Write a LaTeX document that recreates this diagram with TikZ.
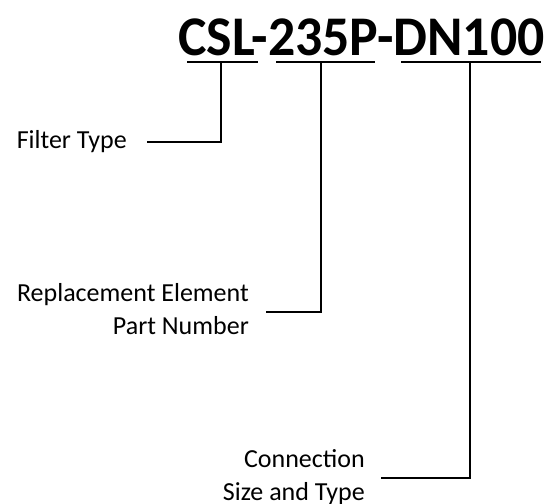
\documentclass[tikz,border=0pt]{standalone}
\usepackage{fontspec}
\setmainfont{Carlito}
\begin{document}
\begin{tikzpicture}[x=1pt,y=-1pt,
  lbl/.style={font=\fontsize{26}{33}\selectfont, inner sep=0pt, align=right},
  ln/.style={line width=1.5pt, black}]
\useasboundingbox (0,0) rectangle (548,503);
\node[font=\fontsize{56}{60}\selectfont\bfseries, inner sep=0pt, anchor=base] (title) at (361.5,56) {\scalebox{0.96}[1]{CSL-235P-DN100}};
% underlines
\coordinate (u1a) at (187,62); \coordinate (u1b) at (258,62);
\coordinate (u2a) at (276,62); \coordinate (u2b) at (375,62);
\coordinate (u3a) at (401,62); \coordinate (u3b) at (541,62);
\coordinate (d1) at (221,62); \coordinate (d2) at (321,62); \coordinate (d3) at (470,62);
\draw[ln] (u1a) -- (u1b);
\draw[ln] (u2a) -- (u2b);
\draw[ln] (u3a) -- (u3b);
% labels
\node[lbl, anchor=east] (ft) at (127,142) {Filter Type};
\node[lbl, anchor=east] (re) at (249,309) {Replacement Element\\Part Number};
\node[lbl, anchor=east] (cs) at (365,477) {Connection\\Size and Type};
\coordinate (f1) at (147,142);
\coordinate (f2) at (266,312);
\coordinate (f3) at (381,478);
\draw[ln] (f1) -| (d1);
\draw[ln] (f2) -| (d2);
\draw[ln] (f3) -| (d3);
\end{tikzpicture}
\end{document}
